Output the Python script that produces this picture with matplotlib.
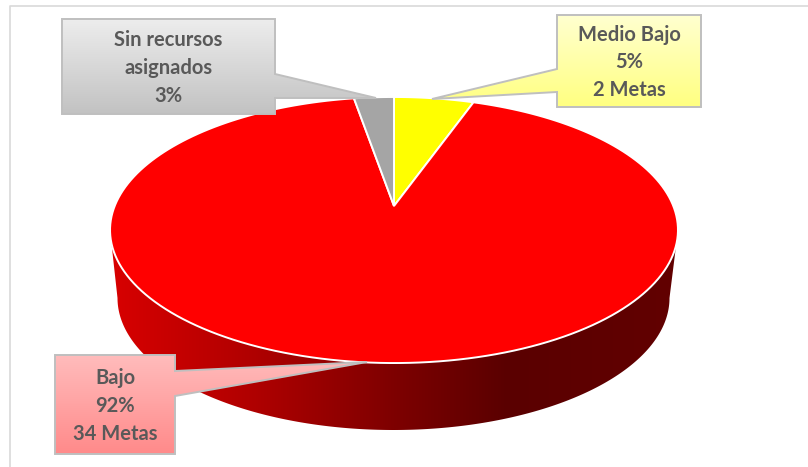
import numpy as np
import matplotlib
matplotlib.use("Agg")
import matplotlib.pyplot as plt
from matplotlib.colors import LinearSegmentedColormap
from matplotlib.patches import Polygon

categorias = ["Medio Bajo", "Bajo", "Sin recursos asignados"]
metas = [2, 34, 1]
colores = ["#ffff00", "#ff0000", "#a5a5a5"]
etiquetas = ["Medio Bajo\n5%\n2 Metas", "Bajo\n92%\n34 Metas", "Sin recursos\nasignados\n3%"]

W, H = 808, 467

# centro de las cunhas y perspectiva del disco
cx, cy = 394, 206
gx, gy, k = 279.3, 128.7, 0.1805
# elipse inferior del lateral
bx, by, ba, bb = 393.5, 298, 276, 132


def proyecta(theta):
    # theta en sentido horario desde arriba
    X = np.sin(theta)
    Y = np.cos(theta)
    w = 1 + k * Y
    return cx + gx * X / w, cy - gy * Y / w


def cunha(t0, t1):
    t = np.linspace(t0, t1, 200)
    x, y = proyecta(t)
    return np.column_stack([np.r_[cx, x, cx], np.r_[cy, y, cy]])


def degradado(ax, ext, cols, horizontal=False):
    g = np.linspace(0, 1, 256)
    g = g.reshape(1, -1) if horizontal else g.reshape(-1, 1)
    cmap = LinearSegmentedColormap.from_list("g", cols)
    return ax.imshow(g, cmap=cmap, extent=ext, aspect="auto", zorder=3, origin="upper")


fig = plt.figure(figsize=(W / 100, H / 100), dpi=100)
ax = fig.add_axes([0, 0, 1, 1])

# lateral del disco
t = np.linspace(0, 2 * np.pi, 720)
ex, ey = proyecta(t)
de = np.argmax(ex)
iz = np.argmin(ex)
arriba = np.column_stack([ex[de:iz + 1], ey[de:iz + 1]])
s = np.linspace(np.pi, 0, 300)
abajo = np.column_stack([bx + ba * np.cos(s), by + bb * np.sin(s)])
lado = np.vstack([arriba, abajo])
tramos = [(0, "#d80000"), (0.25, "#b00000"), (0.51, "#7c0000"), (0.7, "#5a0000"), (1, "#620000")]
im = degradado(ax, (ex.min(), ex.max(), by + bb, ey.min()), tramos, horizontal=True)
im.set_clip_path(Polygon(lado, transform=ax.transData))

# cara superior
fracs = np.array(metas) / sum(metas)
ini = 0.0
for f, c in zip(fracs, colores):
    ax.add_patch(Polygon(cunha(ini, ini + f * 2 * np.pi), closed=True, fc=c, ec="white", lw=1.4, zorder=4))
    ini += f * 2 * np.pi

# llamadas: indice de etiqueta, caja, pico y colores
llamadas = [
    (0, (557, 15, 701, 107), [(557, 92), (432, 99), (557, 69)], ["#ffffd0", "#ffff80"]),
    (1, (55, 355, 175, 454), [(175, 371), (367, 362), (175, 396)], ["#ffbcbc", "#ff8a8a"]),
    (2, (62, 19, 275, 114), [(275, 74), (376, 98), (275, 98)], ["#ededed", "#c2c2c2"]),
]
for i, (x0, y0, x1, y1), pico, cols in llamadas:
    if i == 0:
        pts = [(x0, y0), (x1, y0), (x1, y1), (x0, y1)] + pico
    else:
        pts = [(x0, y0), (x1, y0)] + pico + [(x1, y1), (x0, y1)]
    pts = np.array(pts, dtype=float)
    im = degradado(ax, (pts[:, 0].min(), pts[:, 0].max(), y1, y0), cols)
    im.set_zorder(5)
    im.set_clip_path(Polygon(pts, transform=ax.transData))
    ax.add_patch(Polygon(pts, closed=True, fc="none", ec="#bfbfbf", lw=1.4, zorder=6, joinstyle="miter"))
    ax.text((x0 + x1) / 2, (y0 + y1) / 2 + 1.5, etiquetas[i], ha="center", va="center", color="#595959",
            family="Lato", weight="bold", fontsize=14.5, linespacing=1.49, zorder=7)

# marco
ax.plot([10, 10, W], [H, 6, 6], color="#d9d9d9", lw=1.2, zorder=1)

ax.set_xlim(0, W)
ax.set_ylim(H, 0)
ax.axis("off")
fig.savefig("out.png", dpi=100)
